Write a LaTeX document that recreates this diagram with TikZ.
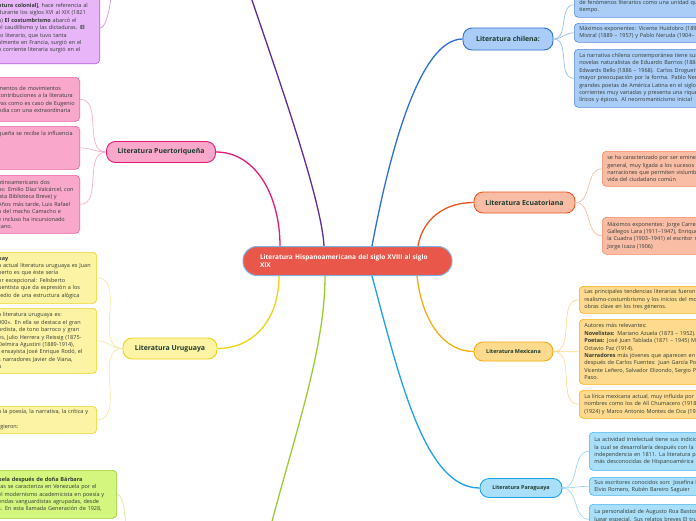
\documentclass[tikz,border=0pt]{standalone}
\usepackage{fontspec}
\setmainfont{Open Sans}
\usepackage{tikz}
\definecolor{topictext}{HTML}{1E3A2F}
\definecolor{notetext}{HTML}{333B36}
\definecolor{hispfill}{HTML}{E9564A}
\definecolor{hispline}{HTML}{7FB2E5}
\definecolor{colfill}{HTML}{E8B6F8}
\definecolor{colline}{HTML}{B35AD8}
\definecolor{colroot}{HTML}{5E2B97}
\definecolor{prfill}{HTML}{F9A8CB}
\definecolor{prline}{HTML}{E6197A}
\definecolor{prtwig}{HTML}{F7A6C7}
\definecolor{uyfill}{HTML}{FCF3A5}
\definecolor{uyline}{HTML}{EFD31A}
\definecolor{uytwig}{HTML}{F6E79A}
\definecolor{vefill}{HTML}{D4F57E}
\definecolor{veline}{HTML}{9ACD32}
\definecolor{vetwig}{HTML}{CDE98A}
\definecolor{clfill}{HTML}{A9CDF7}
\definecolor{clline}{HTML}{2F6FD6}
\definecolor{cltwig}{HTML}{8DB8EE}
\definecolor{ecfill}{HTML}{F9BDA6}
\definecolor{ecline}{HTML}{F2551E}
\definecolor{ectwig}{HTML}{F8B69B}
\definecolor{mxfill}{HTML}{FDDA8E}
\definecolor{mxline}{HTML}{F5AE12}
\definecolor{mxtwig}{HTML}{FBD98A}
\definecolor{pyfill}{HTML}{AADFF9}
\definecolor{pyline}{HTML}{1DA1E8}
\definecolor{pytwig}{HTML}{93D2F2}
\newcommand{\notefont}{\fontsize{5.5}{7.4}\selectfont}
\newcommand{\gap}{\mbox{}}

\begin{document}
\begin{tikzpicture}[x=1pt,y=-1pt,
  topic/.style={line width=0.9pt,rounded corners=9pt,inner sep=0pt,text=topictext,font=\bfseries\fontsize{6.9}{8}\selectfont},
  small topic/.style={topic,font=\bfseries\fontsize{5.4}{6.5}\selectfont},
  note/.style={line width=0.6pt,rounded corners=4pt,inner xsep=5pt,inner ysep=2pt,align=left,text=notetext,font=\notefont},
  branch/.style={line width=1.3pt},
  twig/.style={line width=0.6pt}]
  \fill[white] (0,0) rectangle (696,520);
  \useasboundingbox (0,0) rectangle (696,520);
  \clip (0,0) rectangle (696,520);

  % centre
  \node[draw=hispline,fill=hispfill,line width=1pt,rounded corners=14pt,minimum width=209pt,minimum height=29pt,
        text width=175pt,inner xsep=17pt,align=left,text=white!92!pink,font=\bfseries\fontsize{6.5}{8}\selectfont]
        (hisp) at (347.5,261) {Literatura Hispanoamericana del siglo XVIII al siglo\\XIX};

  % topics
  \node[topic,draw=prline,fill=prfill,minimum width=109pt,minimum height=21pt] (pr) at (161,152) {Literatura Puertoriqueña};
  \node[topic,draw=uyline,fill=uyfill,minimum width=94pt,minimum height=21pt] (uy) at (170,348.5) {Literatura Uruguaya};
  \node[topic,draw=clline,fill=clfill,minimum width=90pt,minimum height=22pt] (cl) at (508,39) {Literatura chilena:};
  \node[topic,draw=ecline,fill=ecfill,minimum width=101pt,minimum height=21pt] (ec) at (524.5,202.5) {Literatura Ecuatoriana};
  \node[small topic,draw=mxline,fill=mxfill,minimum width=79pt,minimum height=19pt] (mx) at (513.5,351.5) {Literatura Mexicana};
  \node[small topic,draw=pyline,fill=pyfill,minimum width=82pt,minimum height=19pt] (py) at (521,488) {Literatura Paraguaya};

  % off-page parents
  \coordinate (colend) at (236,-50);
  \coordinate (veend) at (260,570);
  \coordinate (colup) at (112,-20);
  \coordinate (vedown) at (126,540);

  % left notes
  \node[note,draw=colline,fill=colfill,text width=96.5pt,minimum height=71pt,anchor=south east] (col1) at (100,64)
    {\textbf{atura colonial]}, hace referencia al\\durante los siglos XVI al XIX (1821\\a) \textbf{El costumbrismo} abarcó el\\ el caudillismo y las dictaduras. \textbf{El}\\to literario, que tuvo tanta\\almente en Francia, surgió en el\\a corriente literaria surgió en el};
  \node[note,draw=prline!70,fill=prfill,text width=76.5pt,minimum height=44pt,anchor=north east] (pr1) at (80,77)
    {mentos de movimientos\\contribuciones a la literatura\\vas como es caso de Eugenio\\ndia con una extraordinaria};
  \node[note,draw=prline!70,fill=prfill,text width=76.5pt,minimum height=43pt,anchor=north east] (pr2) at (80,126)
    {queña se recibe la influencia\\\gap\\\gap\\\gap\\\gap};
  \node[note,draw=prline!70,fill=prfill,text width=76.5pt,minimum height=58pt,anchor=north east] (pr3) at (80,175)
    {atinoamericano dos\\as:  Emilio Díaz Valcárcel, con\\ista Biblioteca Breve) y\\Años más tarde, Luis Rafael\\a del macho Camacho e\\e incluso ha incursionado\\cano.};
  \node[note,draw=uyline,fill=uyfill,text width=93.5pt,minimum height=51pt,anchor=north east] (uy1) at (97,252)
    {\textbf{uay}\\a actual literatura uruguaya es Juan\\berto es que éste sería\\or excepcional: Felisberto\\uentista que da expresión a los\\redio de una estructura alógica};
  \node[note,draw=uyline,fill=uyfill,text width=93.5pt,minimum height=65pt,anchor=north east] (uy2) at (97,308)
    {a literatura uruguaya es:\\900». En ella se destaca el gran\\ardista, de tono barroco y gran\\es, Julio Herrera y Reissig (1875-\\Delmira Agustini (1889-1914),\\l ensayista José Enrique Rodó, el\\s narradores Javier de Viana,\\a};
  \node[note,draw=uyline,fill=uyfill,text width=93.5pt,minimum height=27pt,anchor=north east] (uy3) at (97,406)
    {a la poesía, la narrativa, la crítica y\\\gap\\rgieron:};
  \node[note,draw=veline,fill=vefill,text width=113.5pt,minimum height=48pt,anchor=north east] (ve1) at (117,470)
    {\textbf{uela después de doña Bárbara}\\ras se caracteriza en Venezuela por el\\el modernismo academicista en poesía y\\endas vanguardistas agrupadas, desde\\s. En esta llamada Generación de 1928,};

  % right notes
  \node[note,draw=clline!80,fill=clfill,text width=200pt,minimum height=25pt,anchor=north west] (cl1) at (574,-8)
    {\gap\\de fenómenos literarios como una unidad que se desarrolla en el\\tiempo.};
  \node[note,draw=clline!80,fill=clfill,text width=200pt,minimum height=19pt,anchor=north west] (cl2) at (574,23)
    {Máximos exponentes: Vicente Huidobro (1893 – 1948), Gabriela\\Mistral (1889 – 1957) y Pablo Neruda (1904– 1973).};
  \node[note,draw=clline!80,fill=clfill,text width=200pt,minimum height=58pt,anchor=north west] (cl3) at (574,49)
    {La narrativa chilena contemporánea tiene sus orígenes en las\\novelas naturalistas de Eduardo Barrios (1884 – 1963) y Joaquín\\Edwards Bello (1886 – 1968). Carlos Droguett (1912) muestra una\\mayor preocupación por la forma. Pablo Neruda, uno de los\\grandes poetas de América Latina en el siglo XX, pasó por\\corrientes muy variadas y presenta una riqueza de registros\\líricos y épicos. Al neorromanticismo inicial};
  \node[note,draw=ecline!70,fill=ecfill,text width=200pt,minimum height=35pt,anchor=north west] (ec1) at (602,151)
    {se ha caracterizado por ser eminentemente realista\\general, muy ligada a los sucesos e historia del país,\\narraciones que permiten vislumbrar la\\vida del ciudadano común};
  \node[note,draw=ecline!70,fill=ecfill,text width=200pt,minimum height=37pt,anchor=north west] (ec2) at (602,217)
    {Máximos exponentes: Jorge Carrera Andrade,\\Gallegos Lara (1911–1947), Enrique Gil Gilbert\\la Cuadra (1903–1941) el escritor más\\Jorge Icaza (1906)};
  \node[note,draw=mxline,fill=mxfill,text width=200pt,minimum height=27pt,anchor=north west] (mx1) at (579,286)
    {Las principales tendencias literarias fueron: el\\realismo-costumbrismo y los inicios del modernismo\\obras clave en los tres géneros.};
  \node[note,draw=mxline,fill=mxfill,text width=200pt,minimum height=65pt,anchor=north west] (mx2) at (579,319)
    {Autores más relevantes:\\\textbf{Novelistas:} Mariano Azuela (1873 – 1952).\\\textbf{Poetas:} José Juan Tablada (1871 – 1945) Manuel\\Octavio Paz (1914).\\\textbf{Narradores} más jóvenes que aparecen en el\\después de Carlos Fuentes: Juan García Ponce,\\Vicente Leñero, Salvador Elizondo, Sergio Pitol\\Paso.};
  \node[note,draw=mxline,fill=mxfill,text width=200pt,minimum height=28pt,anchor=north west] (mx3) at (579,390)
    {La lírica mexicana actual, muy influida por Paz,\\nombres como los de Alí Chumacero (1918), Rosario\\(1924) y Marco Antonio Montes de Oca (1932).};
  \node[note,draw=pyline!80,fill=pyfill,text width=200pt,minimum height=38pt,anchor=north west] (py1) at (589,432)
    {La actividad intelectual tiene sus indicios\\la cual se desarrollaría después con la\\independencia en 1811. La literatura paraguaya\\más desconocidas de Hispanoamérica};
  \node[note,draw=pyline!80,fill=pyfill,text width=200pt,minimum height=18pt,anchor=north west] (py2) at (589,477)
    {Sus escritores conocidos son:  Josefina Plá,\\Elvio Romero, Rubén Bareiro Saguier};
  \node[note,draw=pyline!80,fill=pyfill,text width=200pt,minimum height=30pt,anchor=north west] (py3) at (589,504)
    {La personalidad de Augusto Roa Bastos ocupa un\\lugar especial. Sus relatos breves El trueno\\\gap};

  % main branches
  \draw[branch,colroot] ([xshift=-23.5pt]hisp.north) .. controls +(-3,-60) and +(10,40) .. (colend);
  \draw[branch,prline] ([xshift=-67.5pt]hisp.north) .. controls +(0,-50) and +(40,0) .. (pr.east);
  \draw[branch,clline] ([xshift=24.5pt]hisp.north) .. controls (390,150) and (420,39) .. (cl.west);
  \draw[branch,ecline] ([xshift=70.5pt]hisp.north) .. controls +(5,-28) and +(-28,0) .. (ec.west);
  \draw[branch,uyline] ([xshift=-68.5pt]hisp.south) .. controls +(0,45) and +(35,0) .. (uy.east);
  \draw[branch,veline] ([xshift=-22.5pt]hisp.south) .. controls (325,360) and (285,460) .. (veend);
  \draw[branch,pyline] ([xshift=24.5pt]hisp.south) .. controls (400,380) and (425,488) .. (py.west);
  \draw[branch,mxline] ([xshift=69.5pt]hisp.south) .. controls +(5,45) and +(-30,0) .. (mx.west);

  % twigs
  \draw[twig,colline!70] (col1.east) .. controls +(7,0) and +(0,20) .. (colup);
  \draw[twig,vetwig] (ve1.east) .. controls +(7,0) and +(0,-20) .. (vedown);
  \foreach \n in {pr1,pr2,pr3} \draw[twig,prtwig] (pr.west) to[out=180,in=0] (\n.east);
  \foreach \n in {uy1,uy2,uy3} \draw[twig,uytwig] (uy.west) to[out=180,in=0] (\n.east);
  \foreach \n in {cl1,cl2,cl3} \draw[twig,cltwig] (cl.east) to[out=0,in=180] (\n.west);
  \foreach \n in {ec1,ec2} \draw[twig,ectwig] (ec.east) to[out=0,in=180] (\n.west);
  \foreach \n in {mx1,mx2,mx3} \draw[twig,mxtwig] (mx.east) to[out=0,in=180] (\n.west);
  \foreach \n in {py1,py2,py3} \draw[twig,pytwig] (py.east) to[out=0,in=180] (\n.west);
\end{tikzpicture}
\end{document}
